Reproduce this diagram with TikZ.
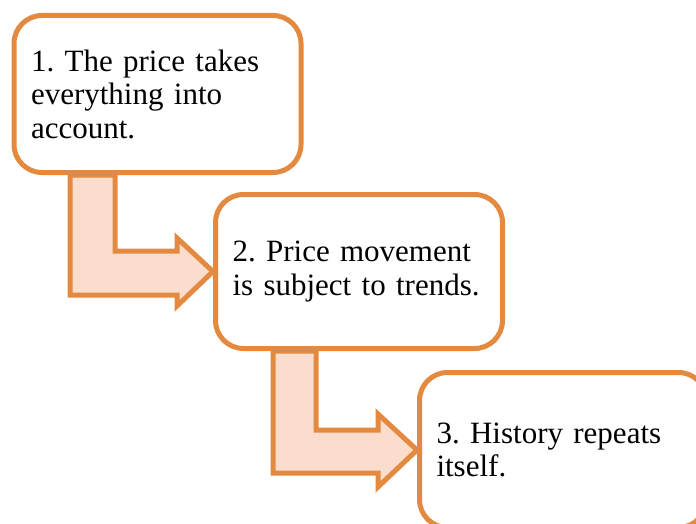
\documentclass[tikz,border=0pt]{standalone}
\usepackage{fontspec}
\setmainfont{Liberation Serif}
\frenchspacing
\definecolor{edge}{RGB}{228,138,64}
\definecolor{peach}{RGB}{251,221,206}
\pgfdeclarelayer{back}
\pgfsetlayers{back,main}
\begin{document}
\begin{tikzpicture}[x=1pt,y=-1pt,
  stepbox/.style={draw=edge, line width=5pt, fill=white, rounded corners=28pt,
    minimum width=287pt, inner xsep=17pt, inner ysep=0pt, text width=253pt, align=left,
    font=\fontsize{31}{33.5}\selectfont\frenchspacing, anchor=center},
  bentarrow/.style={draw=edge, line width=5pt, fill=peach, line join=miter}]
\useasboundingbox (0,0) rectangle (696,524);
\clip (0,0) rectangle (696,524);
\node[stepbox, minimum height=157pt] (b1) at (157.5,94) {1. The price takes\\everything into\\account.};
\node[stepbox, minimum height=154pt] (b2) at (359,271.5) {2. Price movement\\is subject to trends.};
\node[stepbox, minimum height=155pt] (b3) at (563,450) {3. History repeats\\itself.};
\begin{pgfonlayer}{back}
\draw[bentarrow] (70,0 |- b1.south) -- (70,295) -- (177,295) -- (177,306) -- (b2.west)
  -- (177,238) -- (177,251) -- (115,251) -- (115,0 |- b1.south) -- cycle;
\draw[bentarrow] (273,0 |- b2.south) -- (273,473) -- (378,473) -- (378,487) -- (b3.west)
  -- (378,414) -- (378,430) -- (316,430) -- (316,0 |- b2.south) -- cycle;
\end{pgfonlayer}
\end{tikzpicture}
\end{document}
